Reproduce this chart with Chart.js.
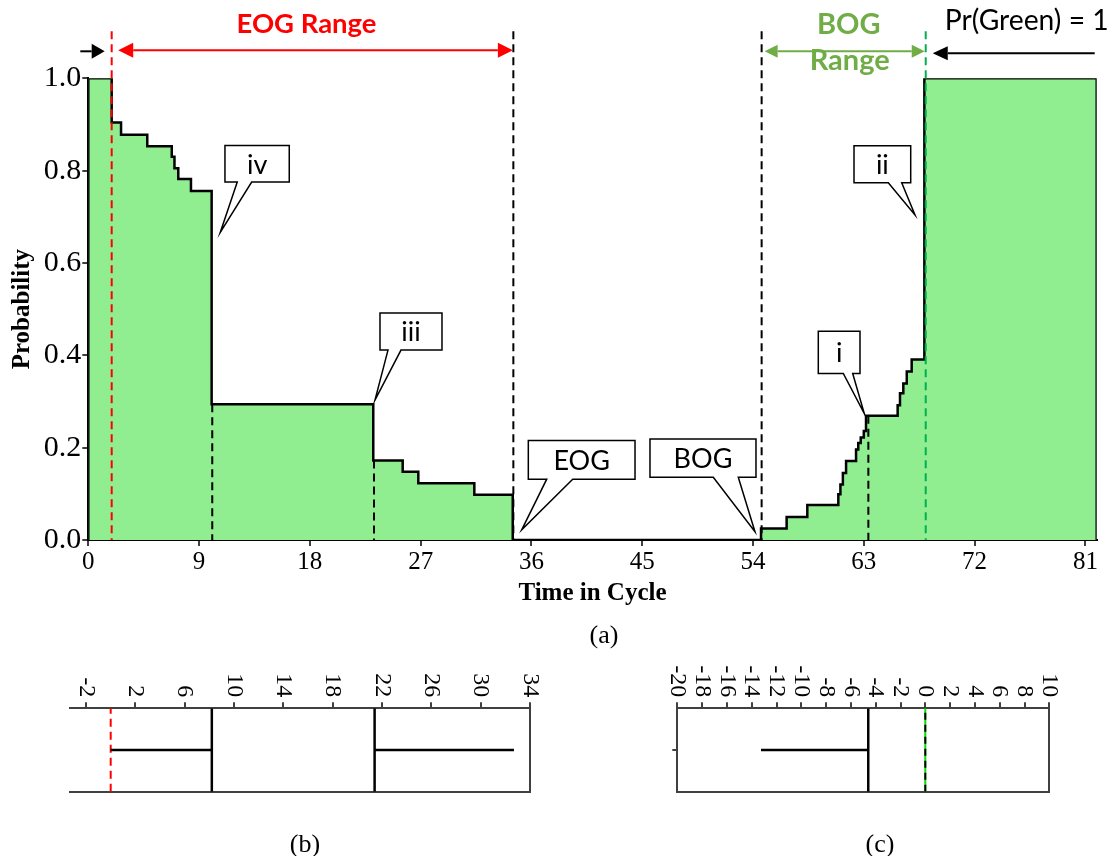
<!DOCTYPE html>
<html>
<head>
<meta charset="utf-8">
<script src="https://cdn.jsdelivr.net/npm/chart.js@4.4.1/dist/chart.umd.min.js"></script>
<style>
  html, body { margin: 0; padding: 0; background: #fff; }
  #wrap { position: relative; width: 1115px; height: 856px; background: #fff; overflow: hidden; }
  canvas { position: absolute; }
  #main { left: 0; top: 0; }
  #panelB { left: 0; top: 650px; }
  #panelC { left: 560px; top: 650px; }
</style>
</head>
<body>
<div id="wrap">
  <canvas id="main" width="1115" height="650"></canvas>
  <canvas id="panelB" width="560" height="206"></canvas>
  <canvas id="panelC" width="555" height="206"></canvas>
</div>
<script>
// ---------- (a) probability of green over the cycle (step function) ----------
const stepTime = [0, 0, 1.90, 2.66, 4.79, 6.78, 7.00, 7.31, 8.34, 10.02,
                  23.15, 25.54, 26.81, 31.36, 34.48,
                  54.65, 56.73, 58.41, 60.93, 61.10, 61.30, 61.56,
                  62.37, 62.55, 62.75, 63.00, 63.18,
                  65.75, 65.94, 66.21, 66.49, 66.89,
                  67.92, 81.92, 81.92];
const stepProb = [0, 1.0, 0.904, 0.878, 0.853, 0.830, 0.805, 0.782, 0.756, 0.294,
                  0.172, 0.148, 0.123, 0.098, 0,
                  0.025, 0.050, 0.076, 0.099, 0.120, 0.145, 0.171,
                  0.196, 0.210, 0.222, 0.236, 0.269,
                  0.292, 0.318, 0.339, 0.365, 0.391,
                  1.0, 1.0, 0];
const xTicks = [0, 9, 18, 27, 36, 45, 54, 63, 72, 81];
const yTicks = [0, 0.2, 0.4, 0.6, 0.8, 1.0];
const xMax = 81.92;

// range boundaries and reference times
const eogStartT = 1.90;     // red dashed line
const eogEndT = 34.53;      // end of EOG range
const bogStartT = 54.70;    // start of BOG range
const greenT = 68.03;       // green dashed line, Pr(Green) = 1 after it
const innerDashT = [10.07, 23.21, 63.37];

// callouts: label and the point they point at (time, probability)
const calloutText = ['iv', 'iii', 'EOG', 'BOG', 'i', 'ii'];
const calloutTipT = [10.72, 23.29, 35.21, 54.16, 63.04, 67.16];
const calloutTipP = [0.666, 0.303, 0.022, 0.018, 0.274, 0.704];

// ---------- (b) and (c) timelines ----------
const bTicks = [-2, 2, 6, 10, 14, 18, 22, 26, 30, 34];
const bMarker = 0;
const bWalls = [8.2, 21.4];
const bSpans = [[0, 8.2], [21.4, 32.7]];

const cTicks = [-20, -18, -16, -14, -12, -10, -8, -6, -4, -2, 0, 2, 4, 6, 8, 10];
const cMarker = 0;
const cWalls = [-4.6];
const cSpans = [[-13.25, -4.6]];

const SERIF = "'Liberation Serif', 'Times New Roman', serif";
const SANS = "Lato, 'Open Sans', 'Liberation Sans', sans-serif";

function fitFont(ctx, text, weight, family, width) {
  ctx.font = `${weight} 100px ${family}`;
  const w = ctx.measureText(text).width;
  return `${weight} ${(100 * width / w).toFixed(2)}px ${family}`;
}

function stepAt(t) {
  let v = stepProb[0];
  for (let i = 0; i < stepTime.length; i++) if (stepTime[i] <= t) v = stepProb[i];
  return v;
}

function vline(ctx, x, y1, y2, color) {
  ctx.strokeStyle = color;
  ctx.beginPath(); ctx.moveTo(x, y1); ctx.lineTo(x, y2); ctx.stroke();
}

function arrow(ctx, tailX, tipX, y, color, len, half, doubleHead) {
  const dir = tipX > tailX ? 1 : -1;
  ctx.strokeStyle = color; ctx.fillStyle = color; ctx.lineWidth = 2; ctx.setLineDash([]);
  ctx.beginPath();
  ctx.moveTo(doubleHead ? tailX + dir * len : tailX, y);
  ctx.lineTo(tipX - dir * len, y);
  ctx.stroke();
  const head = (tx, d) => {
    ctx.beginPath();
    ctx.moveTo(tx, y);
    ctx.lineTo(tx - d * len, y - half);
    ctx.lineTo(tx - d * len, y + half);
    ctx.closePath(); ctx.fill();
  };
  head(tipX, dir);
  if (doubleHead) head(tailX, -dir);
}

// box geometry of each callout relative to its tip (px): left, right, top, bottom, pointer base left/right
const calloutBox = [
  [4.7, 69, -87, -50.4, 17, 31.4],
  [5, 67, -87, -50, 13, 26],
  [6.6, 113.3, -89.3, -50.7, 25, 51],
  [-105, 1, -92.7, -54.4, -41.7, -16.7],
  [-46, -4.3, -82.3, -40, -21, -11.6],
  [-61, -4.3, -69.3, -32.3, -26.7, -13.3]
];

const mainOverlay = {
  id: 'mainOverlay',
  afterDatasetsDraw(chart) {
    const { ctx, chartArea: ca, scales: { x, y } } = chart;
    const X = t => x.getPixelForValue(t);
    const Y = p => y.getPixelForValue(p);
    const topY = ca.top - 47;
    ctx.save();

    // dashed reference lines
    ctx.lineWidth = 2;
    ctx.setLineDash([8, 5]);
    vline(ctx, X(eogEndT), topY, ca.bottom, '#000');
    vline(ctx, X(bogStartT), topY, ca.bottom, '#000');
    innerDashT.forEach(t => vline(ctx, X(t), Y(stepAt(t)), ca.bottom, '#000'));
    vline(ctx, X(eogStartT), topY, ca.bottom, '#FF0000');
    vline(ctx, X(greenT), topY, ca.bottom, '#00B050');

    // range arrows
    const ay = ca.top - 27;
    arrow(ctx, ca.left - 8, X(eogStartT) - 7, ay, '#000', 13, 7.5, false);
    arrow(ctx, X(eogStartT) + 6.5, X(eogEndT) - 0.5, ay - 1, '#FF0000', 15, 7.5, true);
    arrow(ctx, X(bogStartT) + 3, X(greenT) - 1, ay, '#70AD47', 13, 6.5, true);
    arrow(ctx, ca.right - 2, X(greenT) + 7, ay + 2, '#000', 15, 7, false);

    // range captions
    ctx.textAlign = 'center';
    ctx.textBaseline = 'alphabetic';
    ctx.fillStyle = '#FF0000';
    ctx.font = fitFont(ctx, 'EOG Range', 'bold', SANS, 140);
    ctx.fillText('EOG Range', (X(eogStartT) + X(eogEndT)) / 2 - 6, ca.top - 45);
    ctx.fillStyle = '#70AD47';
    ctx.font = fitFont(ctx, 'Range', 'bold', SANS, 80);
    const bogFont = ctx.font;
    ctx.fillText('Range', (X(bogStartT) + X(greenT)) / 2 + 6, ca.top - 8);
    ctx.font = bogFont;
    ctx.fillText('BOG', (X(bogStartT) + X(greenT)) / 2 + 5, ca.top - 44);
    ctx.fillStyle = '#000';
    ctx.textAlign = 'left';
    ctx.font = fitFont(ctx, 'Pr(Green) = 1', 'normal', SANS, 164);
    ctx.fillText('Pr(Green) = 1', X(greenT) + 19, ca.top - 48);

    // callouts
    ctx.setLineDash([]);
    ctx.lineWidth = 1.5;
    ctx.strokeStyle = '#000';
    ctx.font = `27px ${SANS}`;
    calloutText.forEach((txt, i) => {
      const tx = X(calloutTipT[i]), ty = Y(calloutTipP[i]);
      const [l, r, t, b, bl, br] = calloutBox[i];
      ctx.beginPath();
      ctx.moveTo(tx + l, ty + t);
      ctx.lineTo(tx + r, ty + t);
      ctx.lineTo(tx + r, ty + b);
      ctx.lineTo(tx + br, ty + b);
      ctx.lineTo(tx, ty);
      ctx.lineTo(tx + bl, ty + b);
      ctx.lineTo(tx + l, ty + b);
      ctx.closePath();
      ctx.fillStyle = '#fff';
      ctx.fill();
      ctx.stroke();
      ctx.fillStyle = '#000';
      ctx.textAlign = 'center';
      ctx.textBaseline = 'middle';
      ctx.fillText(txt, tx + (l + r) / 2, ty + (t + b) / 2 + 1);
    });

    // panel label
    ctx.font = `26px ${SERIF}`;
    ctx.textAlign = 'center';
    ctx.textBaseline = 'middle';
    ctx.fillText('(a)', (ca.left + ca.right) / 2 + 11.5, 636);
    ctx.restore();
  }
};

new Chart(document.getElementById('main'), {
  type: 'line',
  data: {
    datasets: [{
      data: stepTime.map((t, i) => ({ x: t, y: stepProb[i] })),
      stepped: 'before',
      fill: 'origin',
      backgroundColor: '#90EE90',
      borderColor: '#000',
      borderWidth: 2.5,
      pointRadius: 0,
      borderJoinStyle: 'miter'
    }]
  },
  options: {
    responsive: false,
    animation: false,
    devicePixelRatio: 1,
    layout: { padding: { top: 78.3, right: 18.3, bottom: 0, left: 0 } },
    plugins: { legend: { display: false }, tooltip: { enabled: false } },
    scales: {
      x: {
        type: 'linear', min: 0, max: xMax, z: 1,
        afterBuildTicks: s => { s.ticks = xTicks.map(v => ({ value: v })); },
        afterFit: s => { s.height = 110; },
        ticks: { font: { family: SERIF, size: 25 }, color: '#000', padding: 1, maxRotation: 0, autoSkip: false },
        grid: { display: true, drawOnChartArea: false, drawTicks: true, tickLength: 6, color: '#404040', lineWidth: 2 },
        border: { display: true, color: '#000', width: 2 },
        title: { display: true, text: 'Time in Cycle', color: '#000',
                 font: { family: SERIF, size: 25, weight: 'bold' }, padding: { top: 0, bottom: 41 } }
      },
      y: {
        type: 'linear', min: 0, max: 1, z: 1,
        afterBuildTicks: s => { s.ticks = yTicks.map(v => ({ value: v })); },
        afterFit: s => { s.width = 88.3; },
        ticks: { font: { family: SERIF, size: 30 }, color: '#000', padding: 1,
                 callback: v => Number(v).toFixed(1) },
        grid: { display: true, drawOnChartArea: false, drawTicks: true, tickLength: 6, color: '#404040', lineWidth: 2 },
        border: { display: true, color: '#000', width: 2 },
        title: { display: true, text: 'Probability', color: '#000',
                 font: { family: SERIF, size: 25, weight: 'bold' }, padding: { top: 8, bottom: 0 } }
      }
    }
  },
  plugins: [mainOverlay]
});

// ---------- timeline panels ----------
const rotatedTicks = {
  id: 'rotatedTicks',
  afterDraw(chart, args, opts) {
    const { ctx, chartArea: ca } = chart;
    const s = chart.scales.x;
    ctx.save();
    ctx.fillStyle = '#000';
    ctx.font = `24px ${SERIF}`;
    ctx.textAlign = 'right';
    ctx.textBaseline = 'middle';
    s.ticks.forEach(t => {
      ctx.save();
      ctx.translate(s.getPixelForValue(t.value), ca.top - 11);
      ctx.rotate(Math.PI / 2);
      ctx.fillText(String(t.value), 0, 0);
      ctx.restore();
    });
    ctx.font = `26px ${SERIF}`;
    ctx.textAlign = 'center';
    ctx.fillText(opts.label, opts.labelX, opts.labelY);
    ctx.restore();
  }
};

function segment(x1, y1, x2, y2, color, width, dash) {
  return {
    data: [{ x: x1, y: y1 }, { x: x2, y: y2 }],
    borderColor: color, borderWidth: width, borderDash: dash || [],
    pointRadius: 0, fill: false, xAxisID: 'x', yAxisID: 'y'
  };
}

function panel(id, cfg) {
  const frame = { display: true, color: '#404040', width: 2 };
  new Chart(document.getElementById(id), {
    type: 'line',
    data: { datasets: cfg.datasets },
    options: {
      responsive: false,
      animation: false,
      devicePixelRatio: 1,
      layout: { padding: { left: cfg.padLeft, right: cfg.padRight, top: 58.3, bottom: 64.3 } },
      plugins: { legend: { display: false }, tooltip: { enabled: false }, rotatedTicks: cfg.caption },
      scales: {
        x: {
          type: 'linear', position: 'top', min: cfg.min, max: cfg.max,
          afterBuildTicks: s => { s.ticks = cfg.ticks.map(v => ({ value: v })); },
          afterFit: s => { s.height = 0; },
          ticks: { display: false },
          grid: { display: true, drawOnChartArea: false, drawTicks: true, tickLength: 6, color: '#404040', lineWidth: 2 },
          border: frame
        },
        xb: {
          type: 'linear', position: 'bottom', min: cfg.min, max: cfg.max,
          afterFit: s => { s.height = 0; },
          ticks: { display: false }, grid: { display: false }, border: frame
        },
        y: {
          type: 'linear', position: 'left', min: 0, max: 2, display: cfg.leftFrame,
          afterBuildTicks: s => { s.ticks = [{ value: 1 }]; },
          afterFit: s => { s.width = 0; },
          ticks: { display: false },
          grid: { display: true, drawOnChartArea: false, drawTicks: true, tickLength: 5, color: '#404040', lineWidth: 2 },
          border: frame
        },
        yr: {
          type: 'linear', position: 'right', min: 0, max: 2,
          afterFit: s => { s.width = 0; },
          ticks: { display: false }, grid: { display: false }, border: frame
        }
      }
    },
    plugins: [rotatedTicks]
  });
}

panel('panelB', {
  min: -3.3, max: 34, ticks: bTicks, padLeft: 70, padRight: 30, leftFrame: false,
  caption: { label: '(b)', labelX: 305, labelY: 195 },
  datasets: [
    ...bSpans.map(([a, b]) => segment(a, 1, b, 1, '#000', 2.5)),
    ...bWalls.map(w => segment(w, 0, w, 2, '#000', 2.5)),
    segment(bMarker, 0, bMarker, 2, '#FF0000', 2, [8, 5])
  ]
});

panel('panelC', {
  min: -20, max: 10, ticks: cTicks, padLeft: 117.3, padRight: 65.7, leftFrame: true,
  caption: { label: '(c)', labelX: 320, labelY: 195 },
  datasets: [
    segment(cMarker, 0, cMarker, 2, '#000', 2, [7, 5]),
    segment(cMarker, 0, cMarker, 2, '#00E000', 2),
    ...cSpans.map(([a, b]) => segment(a, 1, b, 1, '#000', 2.5)),
    ...cWalls.map(w => segment(w, 0, w, 2, '#000', 2.5))
  ]
});
</script>
</body>
</html>
